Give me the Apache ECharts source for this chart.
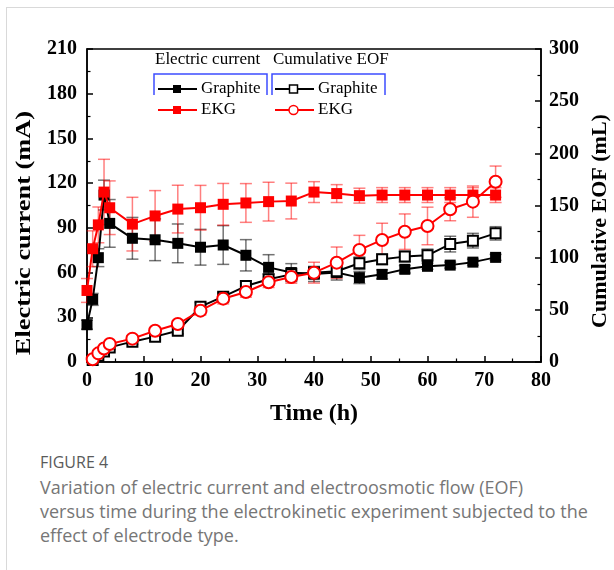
<!DOCTYPE html>
<html lang="en">
<head>
    <meta charset="UTF-8">
    <title>Figure 4</title>
    <script src="https://cdn.jsdelivr.net/npm/echarts@6/dist/echarts.min.js"></script>
    <style>
        body { margin: 0; background: #fff; }
        #card { position: absolute; left: 6px; top: 7px; width: 620px; height: 580px;
                border-top: 1px solid #d9d9d9; border-left: 1px solid #d9d9d9; }
        #main { position: absolute; left: 0; top: 0; width: 614px; height: 440px; }
        #cap { position: absolute; left: 40px; top: 450px; width: 570px;
               font-family: "Open Sans", sans-serif; color: #767676; font-size: 18px; line-height: 24px; }
        #cap .fig { color: #5a5a5a; font-size: 16px; margin-bottom: 1px; }
    </style>
</head>
<body>
<div id="card"></div>
<div id="main"></div>
<div id="cap">
    <div class="fig">FIGURE 4</div>
    <div>Variation of electric current and electroosmotic flow (EOF)<br>versus time during the electrokinetic experiment subjected to the<br>effect of electrode type.</div>
</div>
<script type="text/javascript">
    // time (h)
    var times = [0, 1, 2, 3, 4, 8, 12, 16, 20, 24, 28, 32, 36, 40, 44, 48, 52, 56, 60, 64, 68, 72];
    var eofTimes = [1, 2, 3, 4, 8, 12, 16, 20, 24, 28, 32, 36, 40, 44, 48, 52, 56, 60, 64, 68, 72];

    // electric current (mA)
    var graphiteCur = [25, 42, 70, 112, 93, 83, 82, 79.6, 77, 78.5, 71.6, 63.5, 60, 59, 60, 56.6, 58.8, 62.2, 64.2, 65, 67, 70.2];
    var graphiteCurErr = [3, 4, 6, 10, 16, 14, 14, 13, 12, 13, 10.5, 8.5, 6, 5, 5, 4, 3, 2.5, 2, 2, 2, 2];
    var ekgCur = [48, 76, 92, 114, 103.5, 92.5, 98, 102.6, 103.5, 105.8, 106.7, 107.6, 108, 114, 113, 111.6, 112, 112, 112, 112, 112, 112];
    var ekgCurErr = [8, 12, 12, 22, 18, 18, 17, 16, 15, 14, 13, 13, 12, 7, 6, 5, 5, 5, 5, 5, 5, 5];

    // cumulative EOF (mL)
    var graphiteEof = [2, 6, 10, 14, 19.5, 24.3, 30, 53, 62.6, 72.8, 79.3, 84, 85.5, 87, 94.6, 98.4, 101, 102.2, 113, 116.3, 123.3];
    var graphiteEofErr = [1, 1.5, 2, 2, 2.5, 3, 3, 4, 4, 5, 5, 6, 6, 6, 6, 5, 5, 6, 7.5, 7, 6.4];
    var ekgEof = [2.6, 8.3, 13, 17.3, 22.4, 30, 36.4, 49.2, 60.7, 67.1, 76.4, 81.5, 85.6, 95.2, 107.4, 117, 124.9, 130.4, 146.4, 153.7, 172.8];
    var ekgEofErr = [1, 1.5, 2, 2, 3, 3, 3, 4, 5, 5, 5, 6, 10, 15, 14, 16, 17, 18, 11, 15, 15];

    var serif = '"Liberation Serif", "Times New Roman", serif';

    function pairs(xs, ys) {
        var arr = [];
        for (var i = 0; i < xs.length; i++) {
            arr.push([xs[i], ys[i]]);
        }
        return arr;
    }

    // error bars as a custom series
    function errBars(xs, ys, es, yIdx, color) {
        var arr = [];
        for (var i = 0; i < xs.length; i++) {
            arr.push([xs[i], ys[i] - es[i], ys[i] + es[i]]);
        }
        return {
            type: 'custom',
            yAxisIndex: yIdx,
            silent: true,
            z: 1,
            encode: {x: 0, y: [1, 2]},
            data: arr,
            renderItem: function (params, api) {
                var top = api.coord([api.value(0), api.value(2)]);
                var bot = api.coord([api.value(0), api.value(1)]);
                var w = 6;
                var st = {stroke: color, lineWidth: 1.5};
                return {
                    type: 'group',
                    children: [
                        {type: 'line', shape: {x1: top[0], y1: top[1], x2: bot[0], y2: bot[1]}, style: st},
                        {type: 'line', shape: {x1: top[0] - w, y1: top[1], x2: top[0] + w, y2: top[1]}, style: st},
                        {type: 'line', shape: {x1: bot[0] - w, y1: bot[1], x2: bot[0] + w, y2: bot[1]}, style: st}
                    ]
                };
            }
        };
    }

    var myChart = echarts.init(document.getElementById('main'));

    var axisCommon = {
        axisLine: {show: true, lineStyle: {color: '#000', width: 1.5}},
        axisTick: {show: true, inside: true, length: 6, lineStyle: {color: '#000', width: 1.5}},
        minorTick: {show: true, splitNumber: 2, length: 3.5, lineStyle: {color: '#000', width: 1.2}},
        splitLine: {show: false},
        axisLabel: {color: '#000', fontFamily: serif, fontWeight: 'bold', fontSize: 20}
    };

    // legend drawn by hand
    var blue = '#3d4cff';
    var legend = [
        {type: 'text', left: 155, top: 51, style: {text: 'Electric current', font: '17px ' + serif, fill: '#000'}},
        {type: 'text', left: 273, top: 51, style: {text: 'Cumulative EOF', font: '17px ' + serif, fill: '#000'}},
        {type: 'polyline', shape: {points: [[154, 95], [154, 74], [267, 74], [267, 95]]}, style: {stroke: blue, lineWidth: 1.5, fill: null}},
        {type: 'polyline', shape: {points: [[272, 95], [272, 74], [385, 74], [385, 95]]}, style: {stroke: blue, lineWidth: 1.5, fill: null}},

        {type: 'line', shape: {x1: 158, y1: 89, x2: 197, y2: 89}, style: {stroke: '#000', lineWidth: 2}},
        {type: 'rect', shape: {x: 173, y: 85, width: 8, height: 8}, style: {fill: '#000'}},
        {type: 'text', left: 201, top: 80, style: {text: 'Graphite', font: '17px ' + serif, fill: '#000'}},

        {type: 'line', shape: {x1: 158, y1: 110, x2: 197, y2: 110}, style: {stroke: '#ff0000', lineWidth: 2}},
        {type: 'rect', shape: {x: 173, y: 106, width: 8, height: 8}, style: {fill: '#ff0000'}},
        {type: 'text', left: 201, top: 101, style: {text: 'EKG', font: '17px ' + serif, fill: '#000'}},

        {type: 'line', shape: {x1: 275, y1: 89, x2: 314, y2: 89}, style: {stroke: '#000', lineWidth: 2}},
        {type: 'rect', shape: {x: 289.5, y: 85, width: 8, height: 8}, style: {fill: '#fff', stroke: '#000', lineWidth: 1.5}, z: 10},
        {type: 'text', left: 318, top: 80, style: {text: 'Graphite', font: '17px ' + serif, fill: '#000'}},

        {type: 'line', shape: {x1: 275, y1: 110, x2: 314, y2: 110}, style: {stroke: '#ff0000', lineWidth: 2}},
        {type: 'circle', shape: {cx: 293.5, cy: 110, r: 4.5}, style: {fill: '#fff', stroke: '#ff0000', lineWidth: 1.5}, z: 10},
        {type: 'text', left: 318, top: 101, style: {text: 'EKG', font: '17px ' + serif, fill: '#000'}},

        // axis titles
        {type: 'text', x: 24, y: 233, rotation: Math.PI / 2, scaleX: 1.2,
            style: {text: 'Electric current (mA)', font: 'bold 22px ' + serif, fill: '#000', textAlign: 'center', textVerticalAlign: 'middle'}},
        {type: 'text', x: 600, y: 221, rotation: Math.PI / 2,
            style: {text: 'Cumulative EOF (mL)', font: 'bold 22px ' + serif, fill: '#000', textAlign: 'center', textVerticalAlign: 'middle'}}
    ];

    myChart.setOption({
        animation: false,
        grid: {left: 87, top: 49, width: 454, height: 313, show: true, borderColor: '#000', borderWidth: 1.5},
        xAxis: echarts.util.merge({
            type: 'value', min: 0, max: 80, interval: 10,
            name: 'Time (h)', nameLocation: 'middle', nameGap: 40,
            nameTextStyle: {color: '#000', fontFamily: serif, fontWeight: 'bold', fontSize: 24},
            axisLabel: {margin: 9}
        }, axisCommon),
        yAxis: [
            echarts.util.merge({type: 'value', min: 0, max: 210, interval: 30, axisLabel: {margin: 10}}, axisCommon),
            echarts.util.merge({type: 'value', min: 0, max: 300, interval: 50, position: 'right', axisLabel: {margin: 8}}, axisCommon)
        ],
        graphic: legend,
        series: [
            errBars(times, graphiteCur, graphiteCurErr, 0, 'rgba(0,0,0,0.55)'),
            errBars(eofTimes, graphiteEof, graphiteEofErr, 1, 'rgba(0,0,0,0.55)'),
            errBars(times, ekgCur, ekgCurErr, 0, 'rgba(255,0,0,0.5)'),
            errBars(eofTimes, ekgEof, ekgEofErr, 1, 'rgba(255,0,0,0.5)'),
            {
                name: 'Graphite current', type: 'line', yAxisIndex: 0, z: 3,
                data: pairs(times, graphiteCur),
                symbol: 'rect', symbolSize: 11,
                lineStyle: {color: '#000', width: 2},
                itemStyle: {color: '#000'}
            },
            {
                name: 'Graphite EOF', type: 'line', yAxisIndex: 1, z: 3,
                data: pairs(eofTimes, graphiteEof),
                symbol: 'rect', symbolSize: 10,
                lineStyle: {color: '#000', width: 2},
                itemStyle: {color: '#fff', borderColor: '#000', borderWidth: 2}
            },
            {
                name: 'EKG current', type: 'line', yAxisIndex: 0, z: 4,
                data: pairs(times, ekgCur),
                symbol: 'rect', symbolSize: 11,
                lineStyle: {color: '#ff0000', width: 2},
                itemStyle: {color: '#ff0000'}
            },
            {
                name: 'EKG EOF', type: 'line', yAxisIndex: 1, z: 4,
                data: pairs(eofTimes, ekgEof),
                symbol: 'circle', symbolSize: 12,
                lineStyle: {color: '#ff0000', width: 2},
                itemStyle: {color: '#fff', borderColor: '#ff0000', borderWidth: 2}
            }
        ]
    });
</script>
</body>
</html>
